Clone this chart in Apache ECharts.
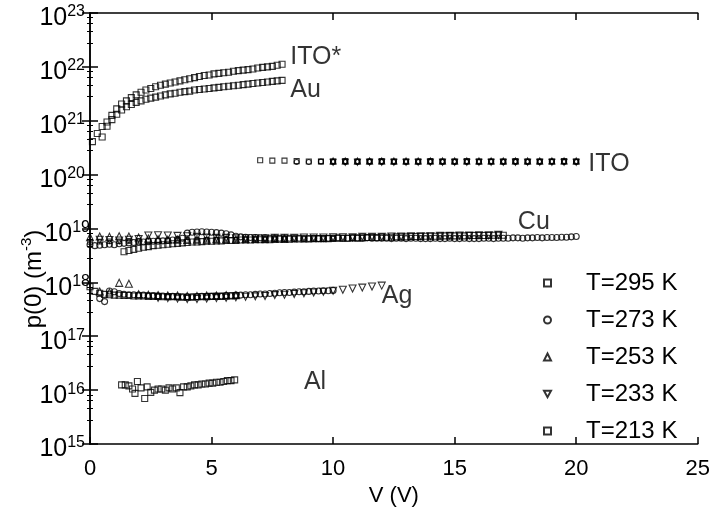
<!DOCTYPE html>
<html>
<head>
<meta charset="utf-8">
<script src="https://cdn.jsdelivr.net/npm/echarts@6/dist/echarts.min.js"></script>
<style>
html,body{margin:0;padding:0;background:#fff;}
#chart{width:713px;height:512px;}
</style>
</head>
<body>
<div id="chart"></div>
<script>
// ---------------- data ----------------
var legendNames = ['T=295 K', 'T=273 K', 'T=253 K', 'T=233 K', 'T=213 K'];
var xTicks = [0, 5, 10, 15, 20, 25];
var yExpShifted = [18, 19];   // tick labels that sit closer to the axis (beside the axis title)

// voltage grids (V)
var V_A = [0.1,0.3,0.5,0.7,0.9,1.1,1.3,1.5,1.7,1.9,2.1,2.3,2.5,2.7,2.9,3.1,3.3,3.5,3.7,3.9,
           4.1,4.3,4.5,4.7,4.9,5.1,5.3,5.5,5.7,5.9,6.1,6.3,6.5,6.7,6.9,7.1,7.3,7.5,7.7,7.9];
var V_ITO = [7,7.5,8,8.5,9,9.5,10,10.5,11,11.5,12,12.5,13,13.5,14,14.5,15,15.5,16,16.5,17,17.5,18,18.5,19,19.5,20];
var V_CU = [0,0.2,0.4,0.6,0.8,1,1.2,1.4,1.6,1.8,2,2.2,2.4,2.6,2.8,3,3.2,3.4,3.6,3.8,
            4,4.2,4.4,4.6,4.8,5,5.2,5.4,5.6,5.8,6,6.2,6.4,6.6,6.8,7,7.2,7.4,7.6,7.8,
            8,8.2,8.4,8.6,8.8,9,9.2,9.4,9.6,9.8,10,10.2,10.4,10.6,10.8,11,11.2,11.4,11.6,11.8,
            12,12.2,12.4,12.6,12.8,13,13.2,13.4,13.6,13.8,14,14.2,14.4,14.6,14.8,15,15.2,15.4,15.6,15.8,
            16,16.2,16.4,16.6,16.8,17,17.2,17.4,17.6,17.8,18,18.2,18.4,18.6,18.8,19,19.2,19.4,19.6,19.8,20];
var V_CU4 = [0,0.4,0.8,1.2,1.6,2,2.4,2.8,3.2,3.6,4,4.4,4.8,5.2,5.6,6,6.4,6.8,7.2,7.6,
             8,8.4,8.8,9.2,9.6,10,10.4,10.8,11.2,11.6,12,12.4,12.8,13.2,13.6,14,14.4,14.8,15.2,15.6,
             16,16.4,16.8,17.2,17.6,18,18.4,18.8,19.2,19.6,20];
var V_AL = [1.3,1.45,1.6,1.75,1.85,1.95,2.1,2.25,2.35,2.5,2.65,2.8,2.95,3.1,3.25,3.4,3.55,3.7,3.85,4.0,
            4.15,4.3,4.45,4.6,4.75,4.9,5.05,5.2,5.35,5.5,5.65,5.8,5.95];

// p(0) values (m^-3)
var itoStar295 = [4.1e20,5.8e20,7.8e20,9.5e20,1.26e21,1.66e21,2.04e21,2.34e21,2.69e21,3.02e21,
                  3.39e21,3.72e21,3.98e21,4.27e21,4.57e21,4.79e21,5.01e21,5.25e21,5.5e21,5.75e21,
                  6.03e21,6.31e21,6.61e21,6.92e21,7.08e21,7.41e21,7.59e21,7.76e21,7.94e21,8.32e21,
                  8.51e21,8.71e21,8.91e21,9.12e21,9.55e21,9.77e21,1.0e22,1.02e22,1.07e22,1.12e22];
var au295 = [5.0e20,7.9e20,1.05e21,1.32e21,1.58e21,1.82e21,2.0e21,2.19e21,2.34e21,2.51e21,
             2.63e21,2.75e21,2.88e21,3.02e21,3.16e21,3.24e21,3.39e21,3.47e21,3.55e21,3.72e21,
             3.8e21,3.89e21,3.98e21,4.07e21,4.17e21,4.27e21,4.37e21,4.47e21,4.57e21,4.68e21,
             4.79e21,4.9e21,5.01e21,5.13e21,5.25e21,5.37e21,5.5e21,5.62e21];

var ito295 = [1.85e20,1.82e20,1.82e20,1.78e20,1.75e20,1.75e20,1.75e20,1.78e20,1.75e20,1.75e20,
              1.78e20,1.75e20,1.75e20,1.75e20,1.78e20,1.75e20,1.75e20,1.78e20,1.75e20,1.75e20,
              1.75e20,1.78e20,1.75e20,1.75e20,1.75e20,1.78e20,1.75e20];
var ito273 = [1.72e20,1.72e20,1.75e20,1.72e20,1.72e20,1.72e20,1.75e20,1.72e20,1.72e20,1.72e20,
              1.72e20,1.75e20,1.72e20,1.72e20,1.72e20,1.72e20,1.75e20,1.72e20,1.72e20,1.72e20,
              1.72e20,1.75e20,1.72e20,1.72e20];
var ito213 = [1.75e20,1.75e20,1.75e20,1.75e20,1.75e20,1.75e20,1.75e20,1.75e20,1.75e20,1.75e20,
              1.75e20,1.75e20,1.75e20,1.75e20,1.75e20,1.75e20,1.75e20,1.75e20,1.75e20,1.75e20,
              1.75e20,1.75e20];
var ito253 = [1.8e20,1.8e20,1.8e20,1.8e20,1.8e20,1.8e20,1.8e20,1.8e20,1.8e20,1.8e20,
              1.8e20,1.8e20,1.8e20,1.8e20,1.8e20,1.8e20,1.8e20,1.8e20,1.8e20,1.8e20,1.8e20];
var ito233 = [1.7e20,1.7e20,1.7e20,1.7e20,1.7e20,1.7e20,1.7e20,1.7e20,1.7e20,1.7e20,
              1.7e20,1.7e20,1.7e20,1.7e20,1.7e20,1.7e20,1.7e20,1.7e20,1.7e20,1.7e20,1.7e20];

var cu273 = [5.0e18,4.8e18,4.9e18,5.0e18,5.1e18,5.0e18,5.2e18,5.3e18,
             5.4e18,5.5e18,5.6e18,5.6e18,5.7e18,5.8e18,5.8e18,5.9e18,6.0e18,6.1e18,6.3e18,6.6e18,
             8.2e18,8.5e18,8.6e18,8.7e18,8.6e18,8.5e18,8.4e18,8.2e18,8.0e18,7.6e18,
             7.2e18,7.0e18,6.9e18,6.8e18,6.8e18,6.7e18,6.7e18,6.6e18,6.6e18,6.6e18,
             6.5e18,6.6e18,6.5e18,6.6e18,6.5e18,6.5e18,6.6e18,6.5e18,6.5e18,6.6e18,
             6.6e18,6.7e18,6.6e18,6.6e18,6.7e18,6.6e18,6.6e18,6.7e18,6.6e18,6.6e18,
             6.6e18,6.6e18,6.5e18,6.6e18,6.6e18,6.5e18,6.6e18,6.6e18,6.5e18,6.5e18,
             6.5e18,6.6e18,6.5e18,6.5e18,6.6e18,6.5e18,6.5e18,6.6e18,6.5e18,6.5e18,
             6.5e18,6.6e18,6.6e18,6.5e18,6.6e18,6.6e18,6.6e18,6.7e18,6.7e18,6.6e18,
             6.7e18,6.7e18,6.8e18,6.7e18,6.8e18,6.8e18,6.8e18,6.9e18,6.9e18,7.0e18,7.1e18];
var cu295 = [3.7e18,3.9e18,4.1e18,4.3e18,4.5e18,4.6e18,4.8e18,4.9e18,5.0e18,5.1e18,
             5.2e18,5.3e18,5.4e18,5.5e18,5.6e18,5.6e18,5.7e18,5.8e18,5.8e18,5.9e18,
             5.9e18,6.0e18,6.0e18,6.0e18,6.1e18,6.1e18,6.1e18,6.2e18,6.2e18,6.2e18,
             6.2e18,6.3e18,6.3e18,6.3e18,6.3e18,6.4e18,6.4e18,6.4e18,6.4e18,6.5e18,
             6.5e18,6.5e18,6.5e18,6.6e18,6.6e18,6.6e18,6.6e18,6.7e18,6.7e18,6.7e18,
             6.8e18,6.8e18,6.8e18,6.9e18,6.9e18,6.9e18,7.0e18,7.0e18,7.0e18,7.1e18,
             7.1e18,7.1e18,7.2e18,7.2e18,7.2e18,7.2e18,7.3e18,7.3e18,7.3e18,7.3e18,
             7.3e18,7.4e18,7.4e18,7.4e18,7.4e18,7.4e18,7.5e18,7.5e18,7.5e18];
var cu253 = [6.9e18,7.1e18,7.0e18,7.2e18,7.1e18,6.8e18,6.5e18,6.3e18,6.2e18,6.2e18,
             6.1e18,6.2e18,6.2e18,6.3e18,6.3e18,6.3e18,6.4e18,6.4e18,6.4e18,6.5e18,6.5e18];
var cu233 = [6.2e18,6.1e18,6.0e18,6.2e18,6.4e18,7.4e18,7.5e18,7.4e18,7.3e18,7.2e18,
             7.0e18,6.8e18,6.7e18,6.7e18,6.6e18,6.6e18,6.6e18,6.6e18,6.7e18,6.7e18,
             6.7e18,6.8e18,6.8e18,6.8e18,6.9e18,6.9e18,6.9e18,7.0e18,7.0e18,7.0e18,
             7.1e18,7.1e18,7.2e18,7.2e18,7.2e18,7.3e18,7.3e18,7.4e18,7.4e18,7.5e18,7.5e18,7.6e18];
var cu213 = [5.6e18,5.7e18,5.8e18,5.8e18,5.9e18,5.9e18,6.0e18,6.0e18,6.0e18,6.1e18,
             6.1e18,6.1e18,6.2e18,6.2e18,6.2e18,6.2e18,6.3e18,6.3e18,6.3e18,6.3e18,
             6.4e18,6.4e18,6.4e18,6.4e18,6.4e18,6.5e18];

var ag295 = [8.3e17,6.8e17,6.3e17,6.0e17,5.9e17,5.8e17,5.8e17,5.7e17,5.7e17,5.6e17,
             5.6e17,5.6e17,5.5e17,5.5e17,5.5e17,5.4e17,5.4e17,5.4e17,5.4e17,5.3e17,
             5.3e17,5.3e17,5.4e17,5.4e17,5.4e17,5.5e17,5.5e17,5.5e17,5.6e17,5.6e17,5.7e17];
var ag273 = [5.0e17,4.4e17,6.9e17,6.7e17,6.2e17,6.0e17,5.9e17,5.9e17,5.8e17,5.8e17,
             5.7e17,5.7e17,5.6e17,5.6e17,5.5e17,5.5e17,5.4e17,5.4e17,5.4e17,5.4e17,
             5.4e17,5.5e17,5.5e17,5.5e17,5.6e17,5.6e17,5.7e17,5.7e17,5.8e17,5.8e17,
             5.9e17,5.9e17,6.0e17,6.1e17,6.1e17,6.2e17,6.3e17,6.4e17,6.5e17,6.5e17,
             6.6e17,6.7e17,6.7e17,6.8e17,6.9e17,6.9e17,7.0e17,7.0e17,7.1e17];
var ag253 = [6.8e17,6.5e17,9.8e17,9.4e17,6.0e17,5.9e17,5.8e17,5.7e17,5.7e17,5.6e17,
             5.6e17,5.7e17,5.7e17,5.8e17,5.8e17];
var ag233 = [5.2e17,5.1e17,5.0e17,4.9e17,4.9e17,5.0e17,5.1e17,5.2e17,5.3e17,5.4e17,
             5.5e17,5.6e17,5.8e17,5.9e17,6.1e17,6.3e17,6.5e17,6.7e17,7.0e17,7.3e17,
             7.7e17,8.0e17,8.4e17,8.7e17];

var al295 = [1.25e16,1.25e16,1.2e16,1.05e16,8.7e15,1.45e16,1.1e16,7.0e15,1.15e16,9.1e15,
             1.0e16,1.05e16,1.05e16,1.0e16,1.1e16,1.05e16,1.1e16,9.0e15,1.15e16,1.15e16,
             1.2e16,1.25e16,1.25e16,1.3e16,1.3e16,1.35e16,1.35e16,1.4e16,1.4e16,1.45e16,
             1.5e16,1.5e16,1.55e16];

// curve labels (anchored in data space)
var labelText = ['ITO*', 'Au', 'ITO', 'Cu', 'Ag', 'Al'];
var labelV    = [8.24, 8.24, 20.5, 17.6, 12.0, 8.8];
var labelP    = [1.5e22, 3.7e21, 1.6e20, 1.32e19, 5.5e17, 1.42e16];

// ---------------- chart ----------------
var FONT = 'Liberation Sans, Arial, Helvetica, sans-serif';
function pairs(xs, ys) { return ys.map(function (y, i) { return [xs[i], y]; }); }

var SYM = {
  'T=295 K': {symbol: 'rect', size: 6},
  'T=273 K': {symbol: 'circle', size: 6},
  'T=253 K': {symbol: 'triangle', size: 7},
  'T=233 K': {symbol: 'path://M0,0 L10,0 L5,9 Z', size: 7},
  'T=213 K': {symbol: 'rect', size: 4.5}
};
function sc(name, xs, ys, size) {
  return {
    type: 'scatter', name: name, data: pairs(xs, ys),
    symbol: SYM[name].symbol, symbolSize: size || SYM[name].size,
    itemStyle: {color: 'rgba(0,0,0,0)', borderColor: '#000', borderWidth: 1.1},
    emphasis: {disabled: true}, silent: true, z: 3
  };
}

var series = [
  sc('T=295 K', V_A, itoStar295),
  sc('T=273 K', V_CU, cu273),
  sc('T=253 K', V_CU4.slice(0, 21), cu253),
  sc('T=233 K', V_CU4.slice(1, 43), cu233),
  sc('T=213 K', V_CU4.slice(0, 26), cu213),
  sc('T=295 K', V_A.slice(2), au295),
  sc('T=295 K', V_ITO, ito295, 5),
  sc('T=273 K', V_ITO.slice(3), ito273, 5),
  sc('T=213 K', V_ITO.slice(5), ito213),
  sc('T=253 K', V_ITO.slice(6), ito253, 6),
  sc('T=233 K', V_ITO.slice(6), ito233, 6),
  sc('T=295 K', V_CU.slice(7, 86), cu295),
  sc('T=295 K', V_CU.slice(0, 31), ag295),
  sc('T=273 K', V_CU.slice(2, 51), ag273),
  sc('T=253 K', V_CU4.slice(1, 16), ag253),
  sc('T=233 K', V_CU4.slice(7, 31), ag233),
  sc('T=295 K', V_AL, al295),
  {
    type: 'scatter', name: 'labels', silent: true,
    data: labelText.map(function (t, i) { return [labelV[i], labelP[i]]; }),
    symbolSize: 0,
    label: {
      show: true, position: 'right', distance: 0,
      formatter: function (p) { return labelText[p.dataIndex]; },
      fontSize: 25, color: '#000', fontFamily: FONT
    },
    z: 5
  }
];

var axisLine = {show: true, lineStyle: {color: '#000', width: 1.5}};
var yRich = {
  b: {fontSize: 25, color: '#000', fontFamily: FONT, padding: [11, 0, 0, 0]},
  s: {fontSize: 16, color: '#000', fontFamily: FONT, padding: [0, 0, 2, 0]}
};
function yLab(v) { return '{b|10}{s|' + Math.round(Math.log10(v)) + '}'; }
function isShifted(v) { return yExpShifted.indexOf(Math.round(Math.log10(v))) >= 0; }

var option = {
  animation: false,
  backgroundColor: '#fff',
  textStyle: {fontFamily: FONT},
  grid: {left: 90, right: 13, top: 13, bottom: 63},
  legend: {
    data: legendNames, orient: 'vertical', left: 543, top: 271, padding: 0,
    itemWidth: 7, itemHeight: 7, itemGap: 13,
    textStyle: {fontSize: 24, color: '#000', fontFamily: FONT, lineHeight: 24, padding: [0, 0, 0, 30]},
    selectedMode: false
  },
  xAxis: [
    {
      type: 'value', min: xTicks[0], max: xTicks[xTicks.length - 1], interval: 5,
      position: 'bottom', axisLine: axisLine,
      axisTick: {show: true, inside: true, length: 7, lineStyle: {color: '#000', width: 1.5}},
      axisLabel: {fontSize: 22, color: '#000', margin: 14, fontFamily: FONT},
      splitLine: {show: false},
      name: 'V (V)', nameLocation: 'middle', nameGap: 41,
      nameTextStyle: {fontSize: 22, color: '#000', fontFamily: FONT}
    },
    {
      type: 'value', min: xTicks[0], max: xTicks[xTicks.length - 1], interval: 5,
      position: 'top', axisLine: axisLine,
      axisTick: {show: true, inside: true, length: 7, lineStyle: {color: '#000', width: 1.5}},
      axisLabel: {show: false}, splitLine: {show: false}
    }
  ],
  yAxis: [
    {
      type: 'log', logBase: 10, min: 1e15, max: 1e23, splitNumber: 8,
      position: 'left', axisLine: axisLine,
      axisTick: {show: true, inside: true, length: 8, lineStyle: {color: '#000', width: 1.5}},
      minorTick: {show: true, splitNumber: 5, length: 3, lineStyle: {color: '#000', width: 1}},
      splitLine: {show: false},
      axisLabel: {
        margin: 5, color: '#000', rich: yRich,
        formatter: function (v) { return isShifted(v) ? '' : yLab(v); }
      }
    },
    {
      type: 'log', logBase: 10, min: 1e15, max: 1e23, splitNumber: 8,
      position: 'right', axisLine: axisLine,
      axisTick: {show: true, inside: true, length: 8, lineStyle: {color: '#000', width: 1.5}},
      minorTick: {show: true, splitNumber: 5, length: 3, lineStyle: {color: '#000', width: 1}},
      splitLine: {show: false}, axisLabel: {show: false}
    },
    {
      type: 'log', logBase: 10, min: 1e15, max: 1e23, splitNumber: 8,
      position: 'left', offset: -5,
      axisLine: {show: false}, axisTick: {show: false}, splitLine: {show: false},
      axisLabel: {
        margin: 5, color: '#000', rich: yRich,
        formatter: function (v) { return isShifted(v) ? yLab(v) : ''; }
      }
    }
  ],
  graphic: [{
    type: 'text', x: 31, y: 279, rotation: Math.PI / 2,
    style: {
      text: '{a|p(0) (m}{s|-3}{a|)}',
      align: 'center', verticalAlign: 'middle',
      rich: {
        a: {fontSize: 24, fill: '#000', fontFamily: FONT, padding: [6, 0, 0, 0]},
        s: {fontSize: 15, fill: '#000', fontFamily: FONT, padding: [0, 0, 8, 0]}
      }
    }
  }],
  series: series
};

var chart = echarts.init(document.getElementById('chart'), null, {renderer: 'canvas'});
chart.setOption(option);
</script>
</body>
</html>
